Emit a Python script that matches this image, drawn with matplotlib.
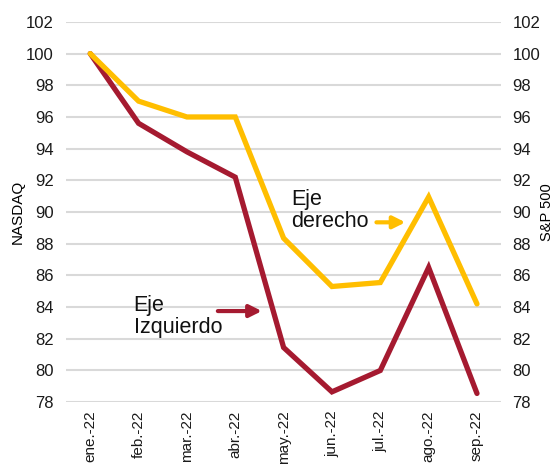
import matplotlib
matplotlib.use("Agg")
import matplotlib.pyplot as plt

plt.rcParams['font.family'] = ['Liberation Sans', 'DejaVu Sans']

# ── Data ──────────────────────────────────────────────────────────────────────
months = ['ene.-22', 'feb.-22', 'mar.-22', 'abr.-22', 'may.-22',
          'jun.-22', 'jul.-22', 'ago.-22', 'sep.-22']
nasdaq = [100.0, 95.6, 93.8, 92.2, 81.45, 78.65, 80.0, 86.5, 78.55]
sp500 = [100.0, 97.0, 96.0, 96.0, 88.35, 85.3, 85.55, 90.95, 84.2]
y_ticks = list(range(78, 103, 2))

RED = '#A51A30'
GOLD = '#FFBE00'
GRID = '#D9D9D9'

fig = plt.figure(figsize=(5.55, 4.66), dpi=100)
ax = fig.add_axes([0.119, 0.137, 0.784, 0.816])
ax2 = ax.twinx()

x = list(range(len(months)))

for a in (ax, ax2):
    a.set_ylim(78, 102)
    a.set_yticks(y_ticks)
    a.set_xlim(-0.5, len(months) - 0.5)
    for s in a.spines.values():
        s.set_visible(False)
    a.tick_params(axis='both', length=0, labelsize=12, colors='#1a1a1a')

ax.yaxis.grid(True, color=GRID, linewidth=1.5)
ax.set_axisbelow(True)

ax.plot(x, nasdaq, color=RED, linewidth=3.8, solid_joinstyle='miter',
        solid_capstyle='round', clip_on=False, zorder=3)
ax2.plot(x, sp500, color=GOLD, linewidth=3.8, solid_joinstyle='miter',
         solid_capstyle='round', clip_on=False, zorder=3)

ax.set_xticks(x)
ax.set_xticklabels(months, rotation=90, va='top')
ax.tick_params(axis='x', pad=6, labelsize=11)
ax.tick_params(axis='y', pad=9)
ax2.tick_params(axis='y', pad=8)

ax.set_ylabel('NASDAQ', fontsize=11, labelpad=1)
ax2.set_ylabel('S&P 500', fontsize=10.5, labelpad=0)

# annotations
ax.text(0.9, 83.4, 'Eje\nIzquierdo', fontsize=15.5, ha='left', va='center',
        linespacing=1.1, color='#111111')
ax.annotate('', xy=(3.55, 83.75), xytext=(2.64, 83.75),
            arrowprops=dict(arrowstyle='-|>', color=RED, lw=3,
                            mutation_scale=18, shrinkA=0, shrinkB=0))

ax2.text(4.15, 90.1, 'Eje\nderecho', fontsize=15.5, ha='left', va='center',
         linespacing=1.1, color='#111111')
ax2.annotate('', xy=(6.52, 89.35), xytext=(5.92, 89.35),
             arrowprops=dict(arrowstyle='-|>', color=GOLD, lw=3,
                             mutation_scale=18, shrinkA=0, shrinkB=0))

fig.savefig('out.png', dpi=100)
